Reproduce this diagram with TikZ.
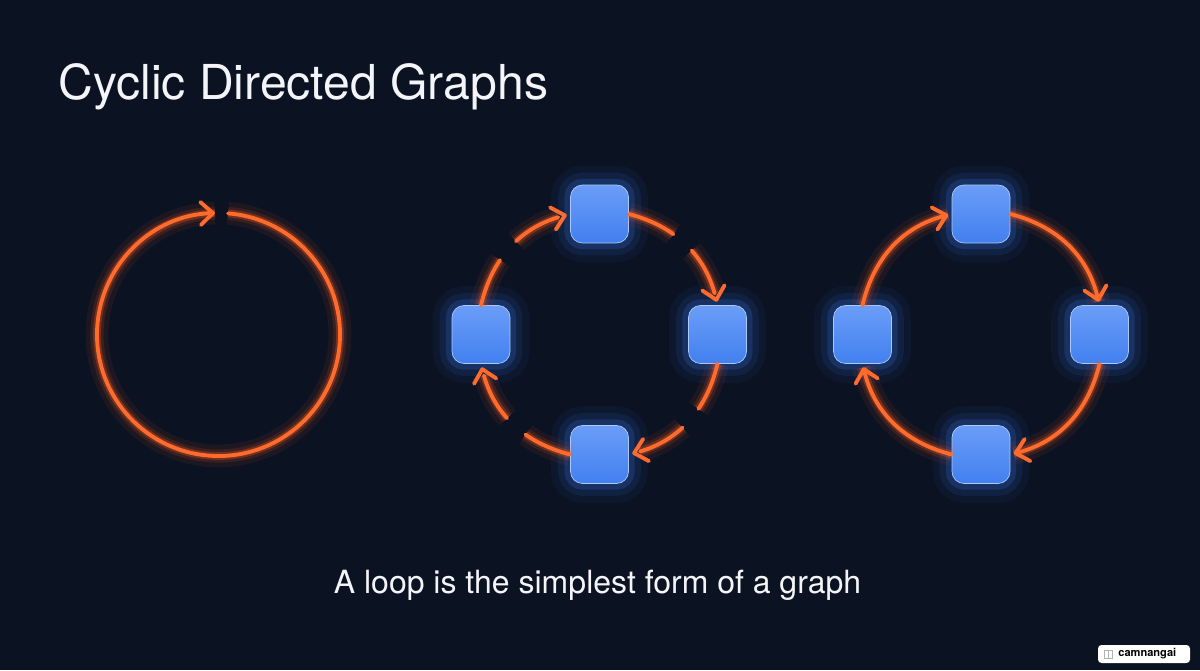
\documentclass[tikz,border=0pt]{standalone}
\usepackage{fontspec}
\setmainfont{TeX Gyre Heros}
\usetikzlibrary{arrows.meta}

\definecolor{bg}{HTML}{0B1222}
\definecolor{neon}{HTML}{FF6B2C}
\definecolor{neonglow}{HTML}{FF5A1A}
\definecolor{boxtop}{HTML}{6A9DF7}
\definecolor{boxbot}{HTML}{4280EF}
\definecolor{boxglow}{HTML}{3C78F0}
\definecolor{textcol}{HTML}{F4F5F8}

\begin{document}
\begin{tikzpicture}[x=0.02cm, y=0.02cm]
    \tikzstyle{glow}=[
        preaction={draw=neonglow, -, line cap=butt, line width=13pt, draw opacity=0.07},
        preaction={draw=neonglow, -, line cap=butt, line width=7.5pt, draw opacity=0.14},
        preaction={draw=neonglow, -, line cap=butt, line width=4.4pt, draw opacity=0.28}
    ]
    \tikzstyle{dash glow}=[
        preaction={draw=neonglow, -, line cap=butt, dash pattern=on 28pt off 14pt, line width=13pt, draw opacity=0.07},
        preaction={draw=neonglow, -, line cap=butt, dash pattern=on 28pt off 14pt, line width=7.5pt, draw opacity=0.14},
        preaction={draw=neonglow, -, line cap=butt, dash pattern=on 28pt off 14pt, line width=4.4pt, draw opacity=0.28}
    ]
    \tikzstyle{neon arc}=[
        draw = neon,
        glow,
        line width = 2.2pt,
        line cap = round,
        shorten > = 2pt,
        -{Straight Barb[length=7pt, width=13pt, round]}
    ]
    \tikzstyle{dashed arc}=[
        draw = neon,
        dash glow,
        line width = 2.2pt,
        line cap = round,
        shorten > = 2pt,
        dash pattern = on 28pt off 14pt,
        -{Straight Barb[length=7pt, width=13pt, round]}
    ]
    \tikzstyle{vertex}=[
        rounded corners = 0.24cm,
        minimum size = 1.16cm,
        inner sep = 0pt,
        top color = boxtop,
        bottom color = boxbot,
        draw = boxtop!55!white,
        line width = 0.4pt,
        preaction = {draw=boxglow, line width=22pt, draw opacity=0.06},
        preaction = {draw=boxglow, line width=14pt, draw opacity=0.10},
        preaction = {draw=boxglow, line width=7pt, draw opacity=0.20}
    ]

    \fill[bg] (0,0) rectangle (1200,670);
    \useasboundingbox (0,0) rectangle (1200,670);

    \node[anchor=base west, inner sep=0pt, text=textcol,
          font=\fontsize{27.4}{32}\selectfont] (title) at (58,570) {Cyclic Directed Graphs};
    \node[anchor=base, inner sep=0pt, text=textcol,
          font=\fontsize{18.2}{22}\selectfont] (caption) at (597.5,77) {A loop is the simplest form of a graph};

    % single loop
    \coordinate (loop) at (218.5,335.5);
    \draw[neon arc, shorten >=0pt] (loop) ++(85.5:121.5) arc[start angle=85.5, end angle=-268.3, radius=121.5];

    % dashed cycle
    \node[vertex] (mt) at (599.5,456)   {};
    \node[vertex] (ml) at (481,335.5)   {};
    \node[vertex] (mr) at (717.5,335.5) {};
    \node[vertex] (mb) at (599.5,215.5) {};

    \draw[dashed arc] (mt.east)  to[bend left=31] (mr.north);
    \draw[dashed arc] (mr.south) to[bend left=31] (mb.east);
    \draw[dashed arc] (mb.west)  to[bend left=31] (ml.south);
    \draw[dashed arc] (ml.north) to[bend left=31] (mt.west);

    % solid cycle
    \node[vertex] (rt) at (981,456)    {};
    \node[vertex] (rl) at (862.5,335.5) {};
    \node[vertex] (rr) at (1099.5,335.5) {};
    \node[vertex] (rb) at (981,215.5)  {};

    \draw[neon arc] (rt.east)  to[bend left=31] (rr.north);
    \draw[neon arc] (rr.south) to[bend left=31] (rb.east);
    \draw[neon arc] (rb.west)  to[bend left=31] (rl.south);
    \draw[neon arc] (rl.north) to[bend left=31] (rt.west);

    % badge
    \node[fill=white, rounded corners=2pt, minimum width=1.84cm, minimum height=0.36cm,
          inner sep=0pt] (badge) at (1144,16) {};
    \draw[gray!60, line width=0.4pt] (1104,12) rectangle (1108,20) (1108,12) rectangle (1112,20);
    \node[anchor=west, inner sep=0pt, text=black,
          font=\bfseries\fontsize{6.3}{7}\selectfont] (badgetext) at (1118,16) {camnangai};
\end{tikzpicture}
\end{document}
